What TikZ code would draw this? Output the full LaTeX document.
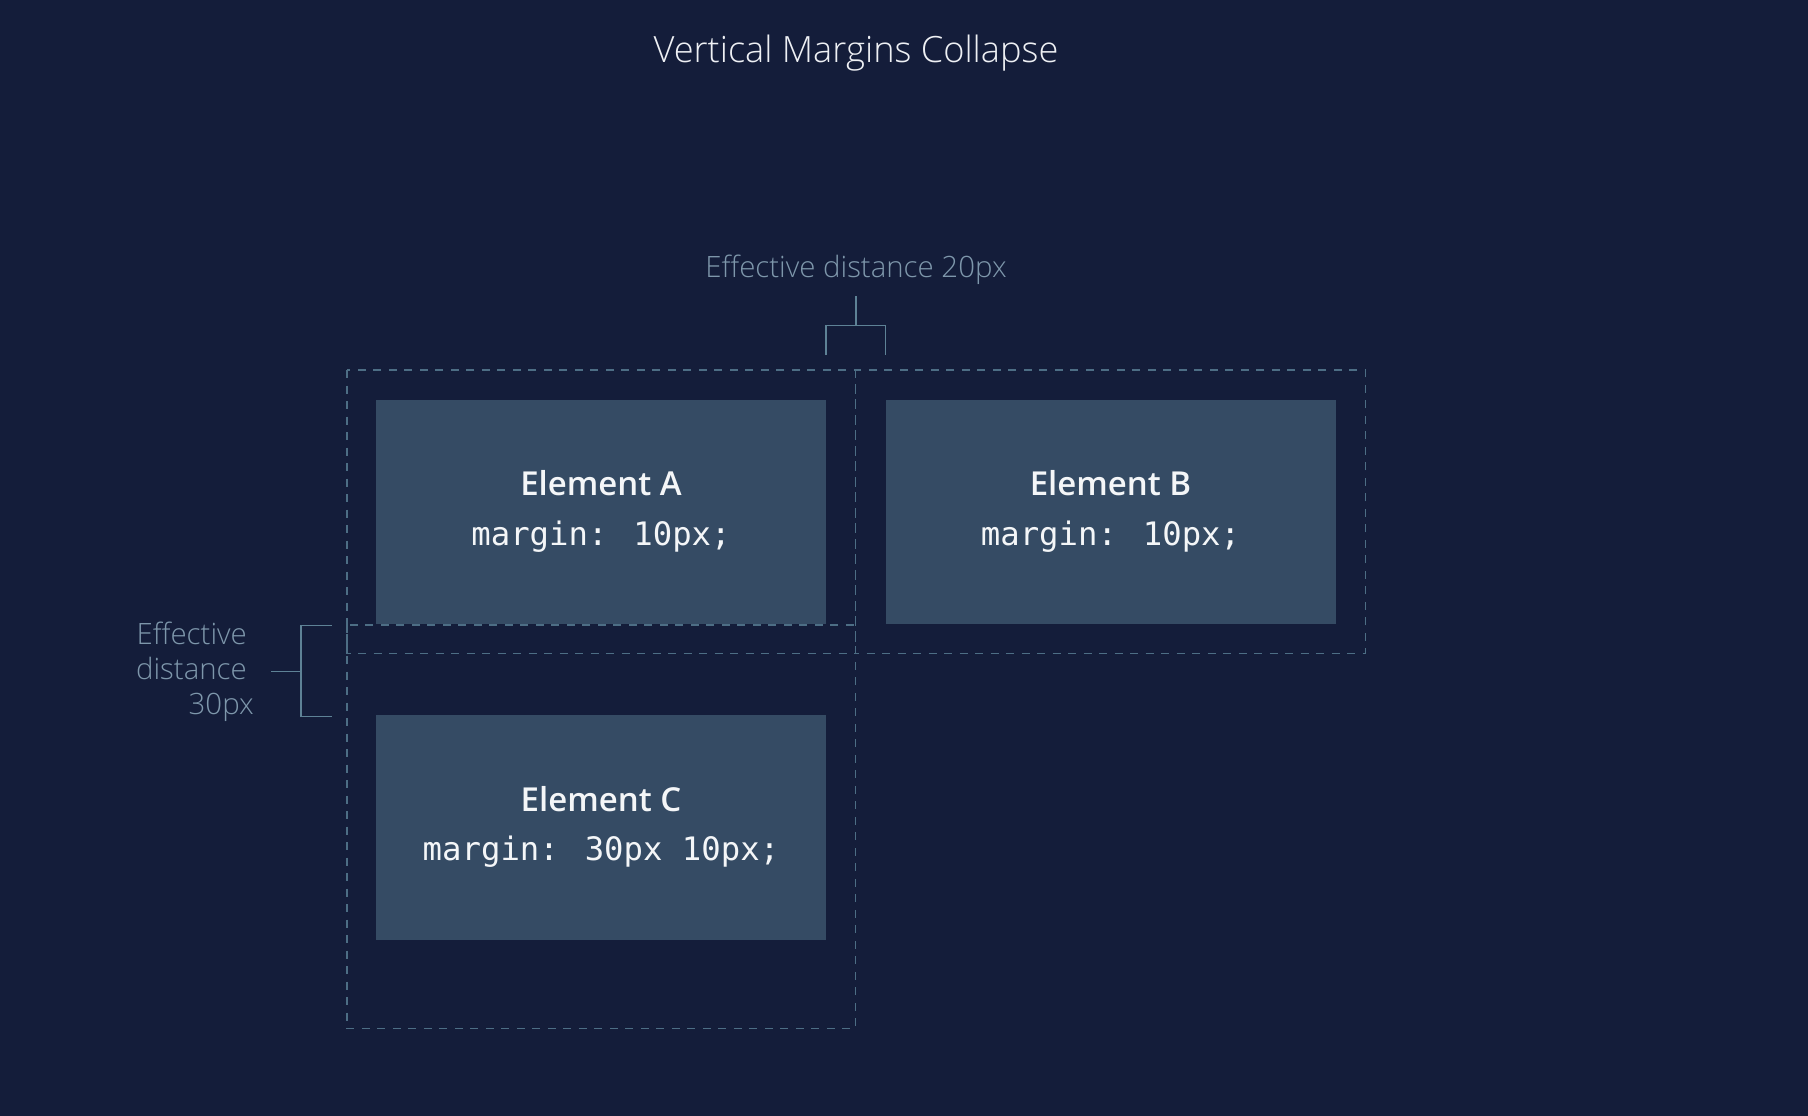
\documentclass[tikz,border=0pt]{standalone}
\usepackage{fontspec}
\IfFontExistsTF{Open Sans Light}{\newfontfamily\lightf{Open Sans Light}}{%
  \IfFontExistsTF{Lato Light}{\newfontfamily\lightf{Lato Light}}{\newfontfamily\lightf{Open Sans}}}
\IfFontExistsTF{Open Sans SemiBold}{\newfontfamily\semif{Open Sans SemiBold}}{%
  \IfFontExistsTF{Open Sans Semibold}{\newfontfamily\semif{Open Sans Semibold}}{\newfontfamily\semif{Open Sans Bold}}}
\newfontfamily\monof{DejaVu Sans Mono}
\definecolor{bg}{HTML}{141D3A}
\definecolor{boxfill}{HTML}{354B64}
\definecolor{dashcol}{HTML}{4D6E85}
\definecolor{brackcol}{HTML}{5E8296}
\definecolor{labcol}{HTML}{7E97AB}
\definecolor{titlecol}{HTML}{EEF0F4}
\definecolor{elemcol}{HTML}{F4F6F8}
\tikzset{
  elembox/.style={fill=boxfill, draw=none, inner sep=0pt, minimum width=450pt, minimum height=224pt},
  marginbox/.style={draw=dashcol, line width=1.3pt, dash pattern=on 8pt off 7.5pt},
  bracket/.style={draw=brackcol, line width=1.5pt},
  elemname/.style={font=\semif\fontsize{33}{38}\selectfont, text=elemcol, inner sep=0pt, anchor=base},
  elemcode/.style={font=\monof\fontsize{32.3}{38}\selectfont, text=elemcol, inner sep=0pt, anchor=base},
  labeltext/.style={font=\lightf\fontsize{29.4}{35}\selectfont, text=labcol, inner sep=0pt},
}
\begin{document}
\begin{tikzpicture}[x=1pt,y=-1pt]
\fill[bg] (0,0) rectangle (1808,1116);
\useasboundingbox (0,0) rectangle (1808,1116);

% title
\node[font=\lightf\fontsize{36.2}{42}\selectfont, text=titlecol, inner sep=0pt, anchor=base] (title) at (856,62.3) {Vertical Margins Collapse};

% element boxes
\node[elembox, minimum height=224pt] (A) at (601,512) {};
\node[elembox, minimum height=224pt] (B) at (1110.5,512) {};
\node[elembox, minimum height=224.8pt] (C) at (601,827.4) {};

% margin boxes (dashed)
\draw[marginbox] (347,370) rectangle (855.5,653.5);
\draw[marginbox] (855.5,370) rectangle (1365.3,653.5);
\draw[marginbox] (347,625) rectangle (855.5,1028.6);

% element texts
\node[elemname] (An) at ([yshift=16.3pt]A.center) {Element A};
\node[elemcode] (Ac) at ([yshift=-33pt]A.center) {margin: 10px;};
\node[elemname] (Bn) at ([yshift=16.3pt]B.center) {Element B};
\node[elemcode] (Bc) at ([yshift=-33pt]B.center) {margin: 10px;};
\node[elemname] (Cn) at ([yshift=16.3pt]C.center) {Element C};
\node[elemcode] (Cc) at ([yshift=-33pt]C.center) {margin: 30px 10px;};

% top bracket
\coordinate (tl) at (A.east |- 0,355);
\coordinate (tr) at (B.west |- 0,355);
\coordinate (tstem) at (856,325.5);
\draw[bracket] (tl) -- (tl |- tstem) -- (tr |- tstem) -- (tr);
\draw[bracket] (tstem) -- (856,296);
\node[labeltext, anchor=base] (toplab) at (856,277.7) {Effective distance 20px};

% left bracket
\coordinate (lt) at (331.5,625.5);
\coordinate (lb) at (331.5,716.5);
\coordinate (lmid) at (301,671.5);
\draw[bracket] (lt) -- (301,625.5) -- (301,716.5) -- (lb);
\draw[bracket] (lmid) -- (271,671.5);
\node[labeltext, anchor=base east] (lab1) at (247,644.3) {Effective};
\node[labeltext, anchor=base east] (lab2) at (247,679.3) {distance};
\node[labeltext, anchor=base east] (lab3) at (254,714.3) {30px};
\end{tikzpicture}
\end{document}
